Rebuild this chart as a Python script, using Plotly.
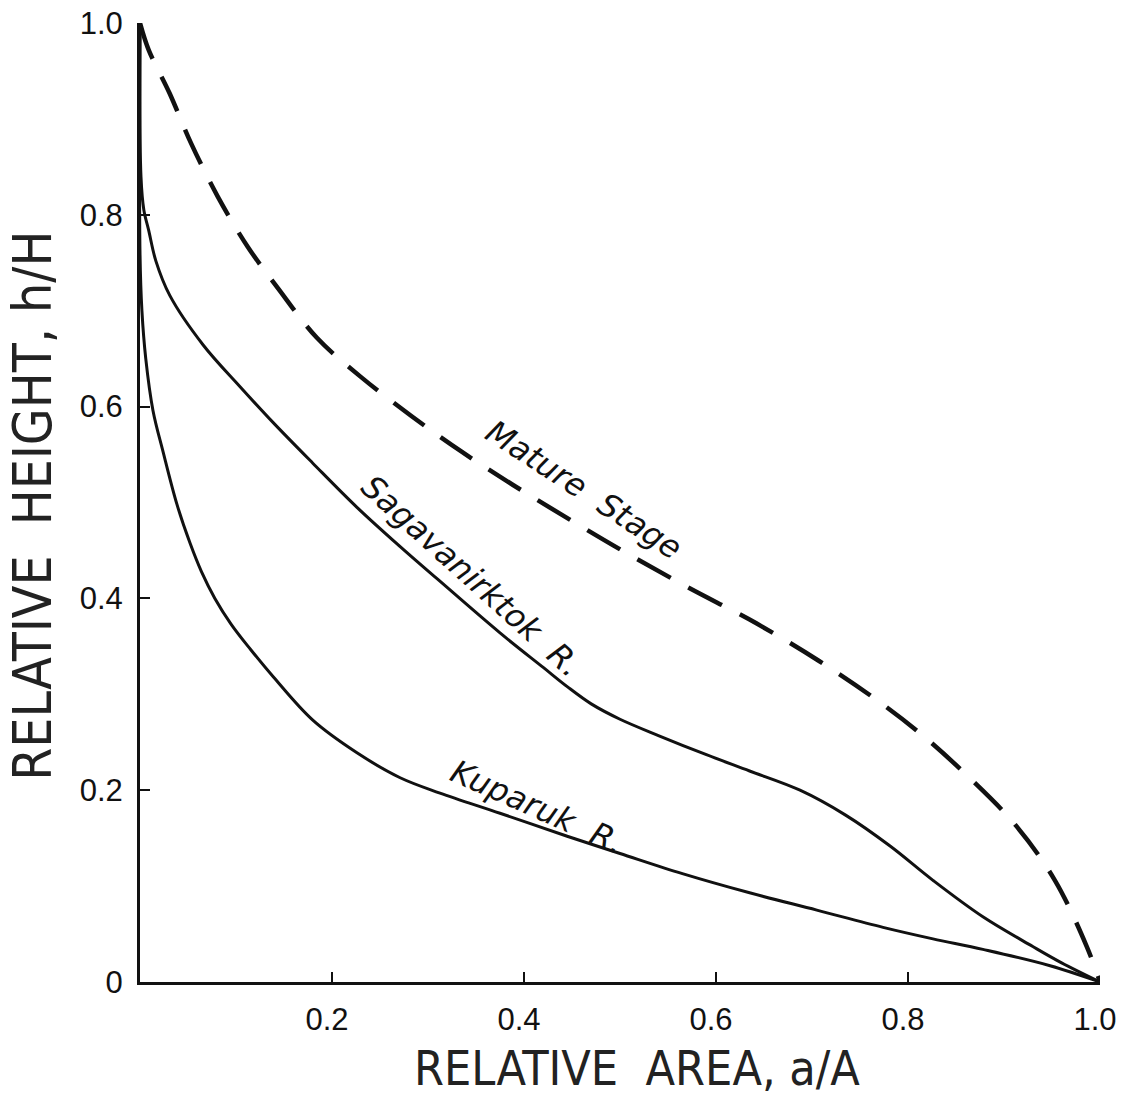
import plotly.graph_objects as go

# ---------------- data ----------------
mature_x = [0, 0.009, 0.0307, 0.053, 0.081, 0.112, 0.144, 0.184, 0.230, 0.283, 0.335, 0.389,
            0.443, 0.502, 0.570, 0.642, 0.707, 0.762, 0.813, 0.864, 0.9125, 0.953, 0.986, 1.0]
mature_y = [1.0, 0.972, 0.927, 0.875, 0.819, 0.767, 0.723, 0.672, 0.631, 0.590, 0.553, 0.518,
            0.485, 0.450, 0.412, 0.374, 0.335, 0.298, 0.259, 0.213, 0.163, 0.106, 0.0375, 0.0]

sag_x = [0, 0.001, 0.004, 0.009, 0.0165, 0.031, 0.066, 0.104, 0.139, 0.180, 0.226, 0.271, 0.310,
         0.375, 0.42, 0.445, 0.47, 0.50, 0.54, 0.59, 0.635, 0.6875, 0.735, 0.781, 0.826, 0.878,
         0.93, 0.96, 1.0]
sag_y = [1.0, 0.84, 0.805, 0.784, 0.752, 0.716, 0.664, 0.621, 0.583, 0.541, 0.495, 0.454, 0.420,
         0.364, 0.328, 0.308, 0.290, 0.274, 0.257, 0.237, 0.220, 0.200, 0.174, 0.142, 0.106, 0.068,
         0.037, 0.020, 0.0]

kup_x = [0, 0.0, 0.002, 0.006, 0.0135, 0.024, 0.0385, 0.052, 0.064, 0.078, 0.095, 0.115, 0.139,
         0.180, 0.226, 0.271, 0.3125, 0.375, 0.445, 0.50, 0.565, 0.635, 0.705, 0.774, 0.826, 0.878,
         0.948, 1.0]
kup_y = [1.0, 0.76, 0.70, 0.65, 0.596, 0.553, 0.498, 0.458, 0.428, 0.400, 0.373, 0.347, 0.318,
         0.273, 0.239, 0.213, 0.197, 0.176, 0.152, 0.134, 0.113, 0.093, 0.075, 0.057, 0.045, 0.034,
         0.017, 0.0]

x_tick_vals = [0.2, 0.4, 0.6, 0.8, 1.0]
x_tick_text = ["0.2", "0.4", "0.6", "0.8", "1.0"]
y_tick_vals = [0, 0.2, 0.4, 0.6, 0.8, 1.0]
y_tick_text = ["0", "0.2", "0.4", "0.6", "0.8", "1.0"]

curve_labels = ["Mature  Stage", "Sagavanirktok  R.", "Kuparuk  R."]
label_x = [0.463, 0.345, 0.414]
label_y = [0.513, 0.423, 0.183]
label_angle = [33, 42, 24]

x_title = "RELATIVE  AREA, a/A"
y_title = "RELATIVE  HEIGHT, h/H"

# ---------------- figure ----------------
TITLE_FONT = "Liberation Sans Narrow, DejaVu Sans Condensed, Liberation Sans, sans-serif"
TICK_FONT = "Liberation Sans, Arial, sans-serif"
INK = "#111111"

fig = go.Figure()
fig.add_trace(go.Scatter(x=mature_x, y=mature_y, mode="lines",
                         line=dict(color=INK, width=4.5, dash="38px,20px", shape="spline", smoothing=1.0),
                         showlegend=False, hoverinfo="skip"))
fig.add_trace(go.Scatter(x=sag_x, y=sag_y, mode="lines",
                         line=dict(color=INK, width=3, shape="spline", smoothing=1.0),
                         showlegend=False, hoverinfo="skip"))
fig.add_trace(go.Scatter(x=kup_x, y=kup_y, mode="lines",
                         line=dict(color=INK, width=3, shape="spline", smoothing=1.0),
                         showlegend=False, hoverinfo="skip"))

for t, lx, ly, ang in zip(curve_labels, label_x, label_y, label_angle):
    fig.add_annotation(x=lx, y=ly, xref="x", yref="y", text="<i>" + t + "</i>",
                       showarrow=False, textangle=ang, xanchor="center", yanchor="middle",
                       font=dict(family="DejaVu Sans, sans-serif", size=32, color=INK))

fig.add_annotation(x=0.518, y=-0.09, xref="paper", yref="paper", text=x_title,
                   showarrow=False, xanchor="center", yanchor="middle",
                   font=dict(family=TITLE_FONT, size=48, color="#222"))
fig.add_annotation(x=-0.112, y=0.497, xref="paper", yref="paper", text=y_title,
                   showarrow=False, textangle=-90, xanchor="center", yanchor="middle",
                   font=dict(family=TITLE_FONT, size=53, color="#222"))

fig.update_layout(
    width=1121, height=1099,
    margin=dict(l=140, r=21, t=23, b=117),
    paper_bgcolor="white", plot_bgcolor="white",
    xaxis=dict(range=[0, 1], showgrid=False, zeroline=False, showline=True, linecolor=INK,
               linewidth=3, ticks="inside", ticklen=10, tickwidth=2, tickcolor=INK,
               tickvals=x_tick_vals, ticktext=x_tick_text, ticklabelstandoff=8,
               ticklabelshift=-5, ticklabeloverflow="allow", automargin=False,
               tickfont=dict(family=TICK_FONT, size=31, color=INK)),
    yaxis=dict(range=[0, 1], showgrid=False, zeroline=False, showline=True, linecolor=INK,
               linewidth=3, ticks="inside", ticklen=10, tickwidth=2, tickcolor=INK,
               tickvals=y_tick_vals, ticktext=y_tick_text, ticklabelstandoff=8,
               ticklabeloverflow="allow", automargin=False,
               tickfont=dict(family=TICK_FONT, size=31, color=INK)),
)

fig.write_html("out.html")
